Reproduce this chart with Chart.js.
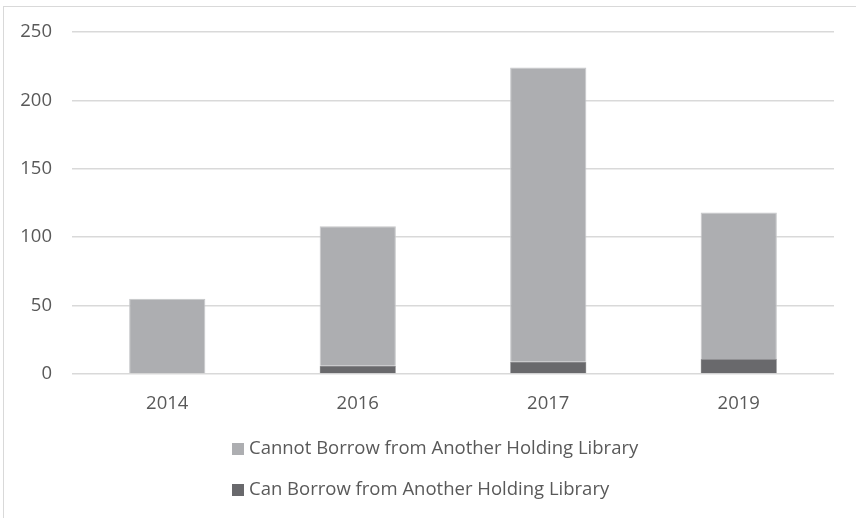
<!DOCTYPE html>
<html>
<head>
<meta charset="utf-8">
<script src="https://cdn.jsdelivr.net/npm/chart.js@4"></script>
<style>
  html, body { margin: 0; padding: 0; background: #fff; }
  #wrap { position: relative; width: 856px; height: 518px; }
  #frame { position: absolute; left: 3px; top: 6px; right: 0; bottom: 0;
    border-left: 1.5px solid #d9d9d9; border-top: 1.5px solid #d9d9d9; pointer-events: none; }
  canvas { position: absolute; left: 0; top: 0; }
</style>
</head>
<body>
<div id="wrap">
  <canvas id="borrow-chart" width="856" height="518"></canvas>
  <div id="frame"></div>
</div>
<script>
// years on the x axis
const years = ['2014', '2016', '2017', '2019'];
// titles per year, split by whether another holding library can lend them
const canBorrow = [0, 6, 9, 11];
const cannotBorrow = [55, 102, 215, 107];
const yTicks = [0, 50, 100, 150, 200, 250];

const textColor = '#595959';
const gridColor = '#d9d9d9';
const fontFamily = "'Open Sans', sans-serif";

// legend drawn as a stacked list under the plot, top item first
const stackedLegend = {
  id: 'stackedLegend',
  afterDraw(chart) {
    const { ctx } = chart;
    const items = chart.data.datasets.slice().reverse();
    ctx.save();
    ctx.font = '18.5px ' + fontFamily;
    ctx.textBaseline = 'middle';
    ctx.textAlign = 'left';
    items.forEach((ds, i) => {
      const y = 449 + i * 41;
      ctx.fillStyle = ds.backgroundColor;
      ctx.fillRect(232, y - 6, 12, 12);
      ctx.fillStyle = textColor;
      ctx.fillText(ds.label, 249, y);
    });
    ctx.restore();
  }
};

const config = {
  type: 'bar',
  data: {
    labels: years,
    datasets: [
      {
        label: 'Can Borrow from Another Holding Library',
        data: canBorrow,
        backgroundColor: '#69696c',
        borderColor: '#7a7a7d',
        borderWidth: 0.5
      },
      {
        label: 'Cannot Borrow from Another Holding Library',
        data: cannotBorrow,
        backgroundColor: '#adaeb1',
        borderColor: '#c6c7c9',
        borderWidth: 1
      }
    ]
  },
  options: {
    responsive: false,
    animation: false,
    layout: { padding: { top: 32, right: 22, bottom: 100, left: 0 } },
    datasets: { bar: { categoryPercentage: 0.8, barPercentage: 0.5 } },
    plugins: {
      legend: { display: false },
      tooltip: { enabled: false }
    },
    scales: {
      x: {
        stacked: true,
        grid: { display: false, drawTicks: false },
        border: { display: false },
        ticks: { color: textColor, font: { family: fontFamily, size: 18.5 }, padding: 19 },
        afterFit(scale) { scale.height = 44; }
      },
      y: {
        stacked: true,
        min: 0,
        max: 250,
        afterBuildTicks(scale) { scale.ticks = yTicks.map(v => ({ value: v })); },
        grid: { color: gridColor, lineWidth: 1.5, drawTicks: false },
        border: { display: false },
        ticks: { color: textColor, font: { family: fontFamily, size: 18.5 }, padding: 20 },
        afterFit(scale) { scale.width = 72; }
      }
    }
  },
  plugins: [stackedLegend]
};

const borrowChart = new Chart(document.getElementById('borrow-chart').getContext('2d'), config);
</script>
</body>
</html>
